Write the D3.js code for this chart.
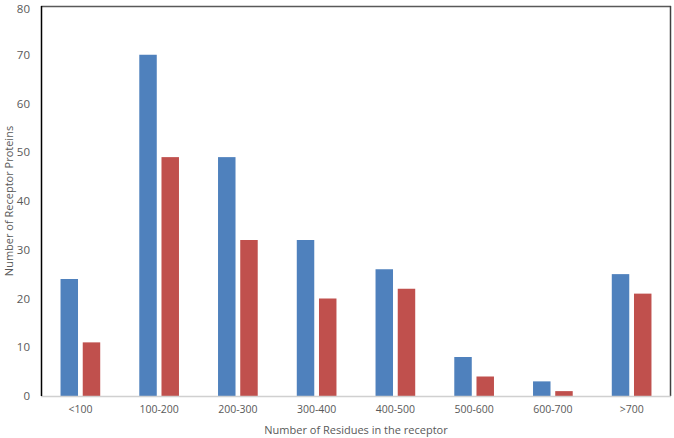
<!DOCTYPE html>
<html lang="en">
<head>
<meta charset="UTF-8">
<title>Receptor residues</title>
<style>
  body { margin: 0; background: #fff; }
  text { font-family: "Open Sans", sans-serif; fill: #595959; }
</style>
</head>
<body>
<div id="chart"></div>
<script src="https://d3js.org/d3.v7.min.js"></script>
<script>
// data
const categories = ["<100", "100-200", "200-300", "300-400", "400-500", "500-600", "600-700", ">700"];
const blueValues = [24, 70, 49, 32, 26, 8, 3, 25];
const redValues = [11, 49, 32, 20, 22, 4, 1, 21];
const yTicks = [0, 10, 20, 30, 40, 50, 60, 70, 80];

const W = 674, H = 438;
const margin = { top: 6, right: 3, bottom: 42, left: 41 };
const width = W - margin.left - margin.right;
const height = H - margin.top - margin.bottom;

const svg = d3.select("#chart").append("svg")
  .attr("width", W).attr("height", H);

const g = svg.append("g")
  .attr("transform", `translate(${margin.left},${margin.top})`);

const x = d3.scaleBand().domain(categories).range([0, width]);
const y = d3.scaleLinear().domain([0, 80]).range([height, 0]);

// series sub-band inside each category
const series = ["blue", "red"];
const colors = { blue: "#4f81bd", red: "#c0504d" };
const barW = x.bandwidth() * 0.222;
const gap = x.bandwidth() * 0.06;
const xs = d3.scaleOrdinal().domain(series)
  .range([x.bandwidth() / 2 - gap / 2 - barW, x.bandwidth() / 2 + gap / 2]);

const rows = categories.map((c, i) => ({ cat: c, blue: blueValues[i], red: redValues[i] }));

// bars
series.forEach(s => {
  g.selectAll(".bar-" + s)
    .data(rows)
    .enter().append("rect")
    .attr("class", "bar-" + s)
    .attr("x", d => x(d.cat) + xs(s))
    .attr("y", d => y(d[s]))
    .attr("width", barW)
    .attr("height", d => height - y(d[s]))
    .attr("fill", colors[s]);
});

// frame: top and right dark, bottom light gray, left black
g.append("line").attr("x1", 0).attr("x2", width).attr("y1", 0.5).attr("y2", 0.5)
  .attr("stroke", "#595959").attr("stroke-width", 1.5);
g.append("line").attr("x1", width - 0.5).attr("x2", width - 0.5).attr("y1", 0).attr("y2", height)
  .attr("stroke", "#404040").attr("stroke-width", 1.5);
g.append("line").attr("x1", 0).attr("x2", width).attr("y1", height + 0.5).attr("y2", height + 0.5)
  .attr("stroke", "#d0d0d0").attr("stroke-width", 1.5);
g.append("line").attr("x1", 0.5).attr("x2", 0.5).attr("y1", 0).attr("y2", height)
  .attr("stroke", "#000").attr("stroke-width", 1.5);

// y axis
const yAxis = g.append("g")
  .call(d3.axisLeft(y).tickValues(yTicks).tickSize(0).tickPadding(11));
yAxis.select(".domain").remove();
yAxis.selectAll("text").style("font-size", "11.5px").attr("fill", "#6b6b6b");
// keep the top label inside the window
yAxis.selectAll("text").filter(d => d === 80).attr("dy", "0.6em");

// x axis
const xAxis = g.append("g")
  .attr("transform", `translate(0,${height})`)
  .call(d3.axisBottom(x).tickSize(0).tickPadding(10));
xAxis.select(".domain").remove();
xAxis.selectAll("text").style("font-size", "10.5px").attr("fill", "#595959");

// titles
svg.append("text")
  .attr("x", margin.left + width / 2)
  .attr("y", 434)
  .attr("text-anchor", "middle")
  .style("font-size", "11px")
  .text("Number of Residues in the receptor");

svg.append("text")
  .attr("transform", `translate(13,${margin.top + height / 2}) rotate(-90)`)
  .attr("text-anchor", "middle")
  .style("font-size", "11px")
  .text("Number of Receptor Proteins");
</script>
</body>
</html>
